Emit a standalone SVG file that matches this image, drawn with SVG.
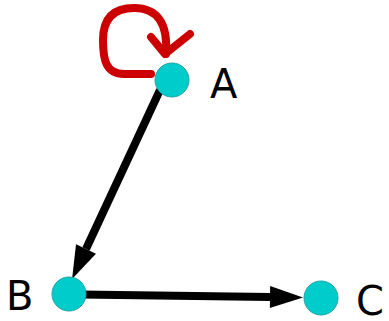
<svg xmlns="http://www.w3.org/2000/svg" width="389" height="321" viewBox="0 0 389 321">
<defs>
<style>
.node{fill:#00cccc;stroke:#22a3a3;stroke-width:1}
.lbl{font-family:"DejaVu Sans",sans-serif;font-size:40px;fill:#000}
.edge{stroke:#000;stroke-width:8;fill:none}
.loop{stroke:#cc0000;stroke-width:8;fill:none;stroke-linecap:round;stroke-linejoin:round}
</style>
<marker id="ah" markerUnits="userSpaceOnUse" markerWidth="34" markerHeight="24" refX="0" refY="11" orient="auto" overflow="visible">
<path d="M0,0 L33,11 L0,22 z" fill="#000"/>
</marker>
</defs>
<rect width="389" height="321" fill="#fff"/>
<g id="connectors">
<path class="loop" d="M151 74 L124 74 C106 74 103 60 103 40 C103 18 114 8 134 8 C158 8 168 24 166 54"/>
<path class="loop" d="M151 37 L165 54 L190 34"/>
<line class="edge" x1="160" y1="90" x2="86" y2="249" marker-end="url(#ah)"/>
<line class="edge" x1="80" y1="294.5" x2="270" y2="297" marker-end="url(#ah)"/>
</g>
<g id="A"><circle class="node" cx="172" cy="80" r="17"/><text class="lbl" x="210" y="98">A</text></g>
<g id="B"><circle class="node" cx="69" cy="294" r="17"/><text class="lbl" x="6" y="310">B</text></g>
<g id="C"><circle class="node" cx="321" cy="298" r="17"/><text class="lbl" x="356" y="315">C</text></g>
</svg>
